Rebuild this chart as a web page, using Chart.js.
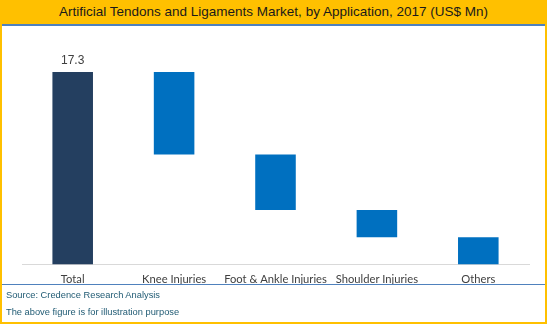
<!DOCTYPE html>
<html>
<head>
<meta charset="utf-8">
<script src="https://cdn.jsdelivr.net/npm/chart.js@4/dist/chart.umd.min.js"></script>
<style>
  html, body { margin: 0; padding: 0; background: #fff; }
  #frame {
    position: relative; width: 547px; height: 324px; box-sizing: border-box;
    border-left: 2px solid #FFC000; border-right: 2px solid #FFC000; border-bottom: 2px solid #FFC000;
    overflow: hidden;
  }
  #title {
    position: absolute; left: -2px; top: 0; width: 547px; height: 24px;
    background: #FFC000; border-bottom: 2px solid #4F81BD;
    font: 13.5px "Liberation Sans", Arial, sans-serif; color: #1a1a1a;
    text-align: center; line-height: 24px;
  }
  #chartBox { position: absolute; left: 0; top: 26px; width: 543px; height: 268px; }
  #sep { position: absolute; left: 0; top: 284px; width: 543px; height: 1px; background: #4F81BD; }
  .note {
    position: absolute; left: 4px; font: 9.3px "Liberation Sans", Arial, sans-serif; color: #1F5A73;
  }
</style>
</head>
<body>
<div id="frame">
  <div id="title">Artificial Tendons and Ligaments Market, by Application, 2017 (US$ Mn)</div>
  <div id="chartBox"><canvas id="chart" width="543" height="268"></canvas></div>
  <div id="sep"></div>
  <div class="note" style="top:290px">Source: Credence Research Analysis</div>
  <div class="note" style="top:307px">The above figure is for illustration purpose</div>
</div>
<script>
const categories = ['Total', 'Knee Injuries', 'Foot & Ankle Injuries', 'Shoulder Injuries', 'Others'];
const totalValue = 17.3;
const segmentValues = [7.4, 5.0, 2.45, 2.45];

// build floating bars for the waterfall
const barData = [[0, totalValue]];
let runningTop = totalValue;
segmentValues.forEach(v => {
    const bottom = Math.max(0, +(runningTop - v).toFixed(2));
    barData.push([bottom, runningTop]);
    runningTop = bottom;
});
const barColors = categories.map((c, i) => i === 0 ? '#243F60' : '#0070C0');

const totalLabel = {
    id: 'totalLabel',
    afterDatasetsDraw(chart) {
        const bar = chart.getDatasetMeta(0).data[0];
        const ctx = chart.ctx;
        ctx.save();
        ctx.font = '12px "Liberation Sans", Arial, sans-serif';
        ctx.fillStyle = '#404040';
        ctx.textAlign = 'center';
        ctx.textBaseline = 'middle';
        ctx.fillText(totalValue.toFixed(1), bar.x, bar.y - 11);
        ctx.restore();
    }
};

new Chart(document.getElementById('chart'), {
    type: 'bar',
    data: {
        labels: categories,
        datasets: [{
            data: barData,
            backgroundColor: barColors,
            borderWidth: 0,
            barPercentage: 0.4,
            categoryPercentage: 1
        }]
    },
    options: {
        responsive: false,
        animation: false,
        layout: { padding: { left: 20, right: 16, top: 16, bottom: 0 } },
        plugins: { legend: { display: false }, tooltip: { enabled: false } },
        scales: {
            y: { display: false, min: 0, max: 20 },
            x: {
                grid: { display: false, drawTicks: false },
                border: { display: true, color: '#D9D9D9', width: 1 },
                ticks: {
                    padding: 8,
                    maxRotation: 0,
                    autoSkip: false,
                    color: '#404040',
                    font: { family: 'Lato, "Open Sans", sans-serif', size: 11.2 }
                }
            }
        }
    },
    plugins: [totalLabel]
});
</script>
</body>
</html>
